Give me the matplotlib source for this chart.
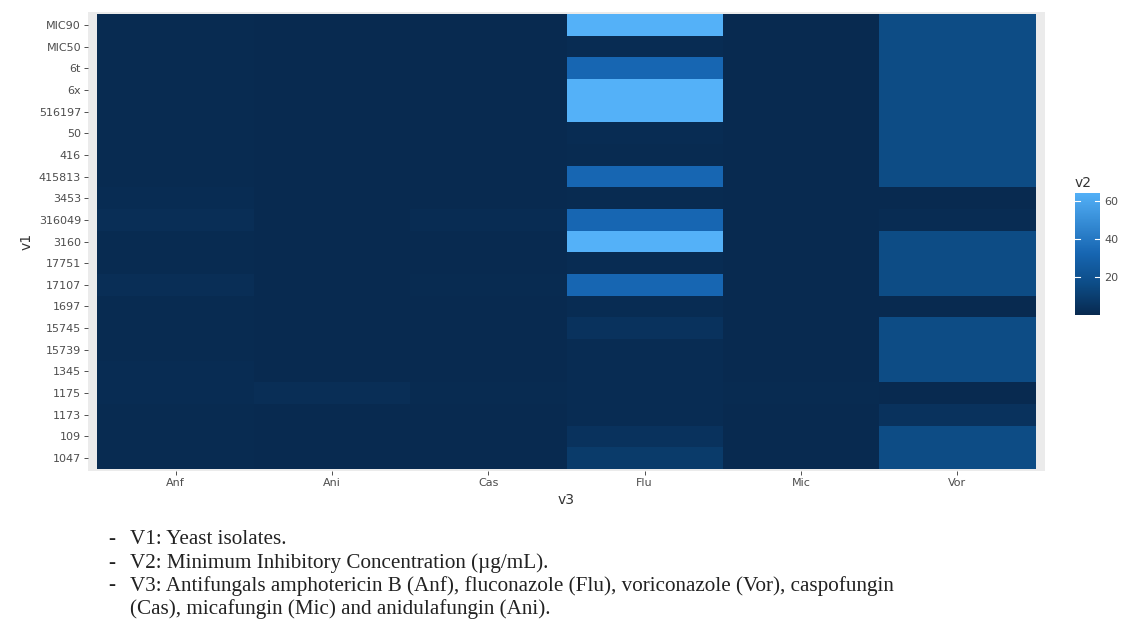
import numpy as np
import matplotlib
matplotlib.use("Agg")
import matplotlib.pyplot as plt
from matplotlib.colors import LinearSegmentedColormap, Normalize

# heatmap data: rows listed top -> bottom, columns are the antifungals
isolates = ["MIC90", "MIC50", "6t", "6x", "516197", "50", "416", "415813", "3453", "316049",
            "3160", "17751", "17107", "1697", "15745", "15739", "1345", "1175", "1173", "109", "1047"]
drugs = ["Anf", "Ani", "Cas", "Flu", "Mic", "Vor"]

anf = [0.5, 0.5, 0.5, 0.5, 0.5, 0.5, 0.5, 0.5, 1, 2, 0.5, 0.5, 2, 0.5, 0.5, 0.5, 1, 1, 0.5, 0.5, 0.5]
ani = [0.03, 0.03, 0.03, 0.03, 0.03, 0.03, 0.03, 0.03, 0.03, 0.03, 0.03, 0.03, 0.03, 0.03, 0.03, 0.03, 0.03, 2, 0.03, 0.03, 0.03]
cas = [0.125, 0.125, 0.125, 0.125, 0.125, 0.125, 0.125, 0.125, 0.25, 1, 0.125, 0.125, 0.5, 0.125, 0.125, 0.125, 0.125, 0.5, 0.125, 0.125, 0.125]
flu = [64, 1, 32, 64, 64, 1, 0.5, 32, 0.5, 32, 64, 1, 32, 1, 4, 1, 1, 1, 1, 4, 8]
mic = [0.03, 0.03, 0.03, 0.03, 0.03, 0.03, 0.03, 0.03, 0.03, 0.03, 0.03, 0.03, 0.03, 0.03, 0.03, 0.03, 0.03, 0.5, 0.03, 0.03, 0.03]
vor = [16, 16, 16, 16, 16, 16, 16, 16, 0.25, 1, 16, 16, 16, 0.25, 16, 16, 16, 0.25, 4, 16, 16]

cbar_ticks = [20, 40, 60]
notes = [
    "V1: Yeast isolates.",
    "V2: Minimum Inhibitory Concentration (\u00b5g/mL).",
    "V3: Antifungals amphotericin B (Anf), fluconazole (Flu), voriconazole (Vor), caspofungin",
]
note_tail = "(Cas), micafungin (Mic) and anidulafungin (Ani)."

# blue gradient as it appears in the picture (dark navy -> light sky blue)
cmap = LinearSegmentedColormap.from_list(
    "mic", [(0.0, "#082A50"), (0.25, "#0D4C86"), (0.5, "#1766B2"), (1.0, "#54B1F8")])

data = np.array([anf, ani, cas, flu, mic, vor]).T[::-1]  # bottom row first
vmin, vmax = data.min(), data.max()
norm = Normalize(vmin, vmax)

W, H = 1125, 628
fig = plt.figure(figsize=(W / 100, H / 100), dpi=100)
fig.patch.set_facecolor("white")

# panel
pl, pr, pt, pb = 88, 1045, 12, 471
ax = fig.add_axes([pl / W, 1 - pb / H, (pr - pl) / W, (pb - pt) / H])
ax.set_facecolor("#EBEBEB")
ax.pcolormesh(np.arange(len(drugs) + 1) - 0.5, np.arange(len(isolates) + 1) - 0.5, data,
              cmap=cmap, norm=norm, shading="flat")
ax.set_xlim(-0.56, len(drugs) - 0.44)
ax.set_ylim(-0.6, len(isolates) - 0.4)
ax.set_xticks(range(len(drugs)))
ax.set_xticklabels(drugs)
ax.set_yticks(range(len(isolates)))
ax.set_yticklabels(isolates[::-1])
for s in ax.spines.values():
    s.set_visible(False)
ax.tick_params(length=3, width=0.6, color="#333333", labelcolor="#4D4D4D", labelsize=8, pad=2)
ax.set_xlabel("v3", fontsize=10, color="#333333", labelpad=4)
ax.set_ylabel("v1", fontsize=10, color="#333333", labelpad=4)

# colourbar
cl, cr, ct, cb = 1075, 1100, 193, 315
cax = fig.add_axes([cl / W, 1 - cb / H, (cr - cl) / W, (cb - ct) / H])
grad = np.linspace(vmin, vmax, 300).reshape(-1, 1)
cax.imshow(grad, aspect="auto", cmap=cmap, norm=norm, origin="lower",
           extent=[0, 1, vmin, vmax])
cax.set_xlim(0, 1)
cax.set_ylim(vmin, vmax)
for t in cbar_ticks:
    cax.plot([0, 0.2], [t, t], color="white", lw=0.8)
    cax.plot([0.8, 1], [t, t], color="white", lw=0.8)
cax.set_xticks([])
cax.yaxis.tick_right()
cax.set_yticks(cbar_ticks)
cax.tick_params(axis="y", length=0, labelsize=8, labelcolor="#4D4D4D", pad=3)
for s in cax.spines.values():
    s.set_visible(False)
fig.text(cl / W, 1 - 183 / H, "v2", fontsize=10, color="#333333", va="center", ha="left")

# notes under the chart
y0 = 540
fs = 15.2
for i, line in enumerate(notes):
    y = y0 + i * 23
    fig.text(108 / W, 1 - y / H, "-", fontsize=fs, family="Liberation Serif", va="center", color="#222222")
    fig.text(130 / W, 1 - y / H, line, fontsize=fs, family="Liberation Serif", va="center", color="#222222")
fig.text(130 / W, 1 - (y0 + 3 * 23) / H, note_tail, fontsize=fs, family="Liberation Serif",
         va="center", color="#222222")

fig.savefig("out.png", dpi=100)
